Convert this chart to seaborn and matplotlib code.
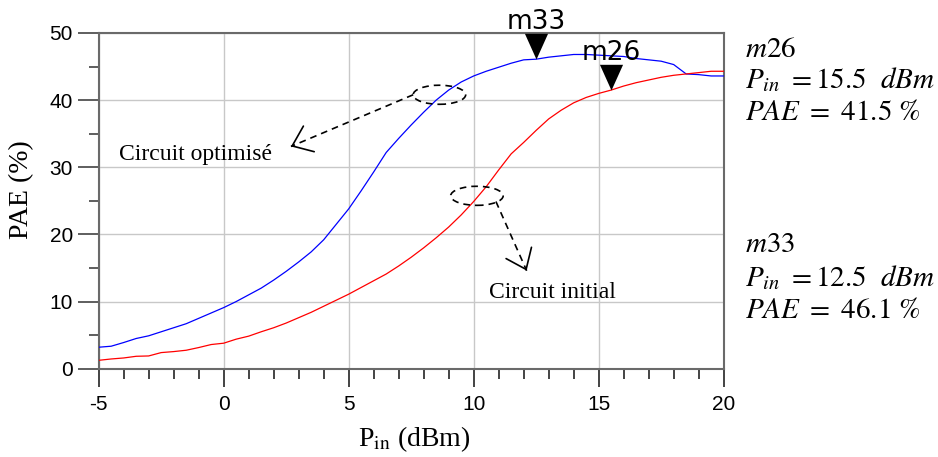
import numpy as np
import pandas as pd
import matplotlib
matplotlib.use("Agg")
import matplotlib.pyplot as plt
import seaborn as sns
from matplotlib.ticker import MultipleLocator
from matplotlib.patches import Ellipse

# Input power sweep (dBm)
pin = [-5, -4.5, -4, -3.5, -3, -2.5, -2, -1.5, -1, -0.5,
       0, 0.5, 1, 1.5, 2, 2.5, 3, 3.5, 4, 4.5,
       5, 5.5, 6, 6.5, 7, 7.5, 8, 8.5, 9, 9.5,
       10, 10.5, 11, 11.5, 12, 12.5, 13, 13.5, 14, 14.5,
       15, 15.5, 16, 16.5, 17, 17.5, 18, 18.5, 19, 19.5, 20]

# PAE (%) of the optimised circuit
pae_optimise = [3.2, 3.35, 3.9, 4.5, 4.9, 5.5, 6.1, 6.7, 7.5, 8.3,
                9.1, 10.0, 11.0, 12.0, 13.2, 14.5, 15.9, 17.4, 19.2, 21.5,
                23.8, 26.5, 29.3, 32.2, 34.3, 36.3, 38.2, 40.0, 41.5, 42.7,
                43.6, 44.3, 44.9, 45.5, 46.0, 46.1, 46.4, 46.6, 46.8, 46.8,
                46.7, 46.6, 46.5, 46.2, 46.0, 45.8, 45.3, 43.9, 43.8, 43.6, 43.6]

# PAE (%) of the initial circuit
pae_initial = [1.25, 1.45, 1.6, 1.85, 1.9, 2.4, 2.55, 2.75, 3.15, 3.6,
               3.8, 4.4, 4.85, 5.5, 6.1, 6.8, 7.6, 8.4, 9.3, 10.2,
               11.1, 12.1, 13.1, 14.1, 15.3, 16.6, 18.0, 19.5, 21.1, 22.9,
               24.9, 27.1, 29.6, 32.0, 33.7, 35.5, 37.2, 38.5, 39.6, 40.4,
               41.0, 41.5, 42.1, 42.6, 43.0, 43.4, 43.7, 43.9, 44.1, 44.3, 44.3]

# Markers: name, Pin (dBm), PAE (%)
marker_names = ["m33", "m26"]
marker_pin = [12.5, 15.5]
marker_pae = [46.1, 41.5]

x_ticks = [-5, 0, 5, 10, 15, 20]
y_ticks = [0, 10, 20, 30, 40, 50]

df = pd.DataFrame({
    "Pin": pin * 2,
    "PAE": pae_optimise + pae_initial,
    "circuit": ["Circuit optimisé"] * len(pin) + ["Circuit initial"] * len(pin),
})

sns.set_theme(style="white")
plt.rcParams["font.family"] = ["Liberation Sans", "DejaVu Sans"]
plt.rcParams["mathtext.fontset"] = "stix"

fig = plt.figure(figsize=(9.38, 4.57), dpi=100)
ax = fig.add_axes([0.1052, 0.1932, 0.6663, 0.7346])

sns.lineplot(data=df, x="Pin", y="PAE", hue="circuit",
             palette={"Circuit optimisé": "#0000ff", "Circuit initial": "#ff0000"},
             linewidth=0.9, legend=False, ax=ax, zorder=3)

ax.set_xlim(-5, 20)
ax.set_ylim(0, 50)
ax.set_xticks(x_ticks)
ax.set_yticks(y_ticks)
ax.set_xticklabels([str(v) for v in x_ticks])
ax.set_yticklabels([str(v) for v in y_ticks])
ax.xaxis.set_minor_locator(MultipleLocator(1))
ax.yaxis.set_minor_locator(MultipleLocator(5))

ax.grid(True, which="major", color="#c8c8c8", linewidth=1.0)
ax.set_axisbelow(True)

for side in ["left", "right", "top", "bottom"]:
    ax.spines[side].set_visible(True)
    ax.spines[side].set_color("#6a6a6a")
    ax.spines[side].set_linewidth(1.5)

ax.tick_params(axis="y", which="major", direction="out", length=15, width=1.1,
               color="#333333", labelsize=15, labelcolor="black", pad=3.5,
               left=True, right=False)
ax.tick_params(axis="y", which="minor", direction="out", length=7.5, width=1.1,
               color="#333333", left=True, right=False)
ax.tick_params(axis="x", which="major", direction="out", length=13, width=1.1,
               color="#111111", labelsize=15, labelcolor="black", pad=6,
               bottom=True, top=False)
ax.tick_params(axis="x", which="minor", direction="out", length=7, width=1.1,
               color="#111111", bottom=True, top=False)

ax.set_xlabel(r"P$_{\mathrm{in}}$ (dBm)", family="Liberation Serif", fontsize=20,
              color="black")
ax.set_ylabel("PAE (%)", family="Liberation Serif", fontsize=20, color="black")
ax.xaxis.set_label_coords(0.505, -0.165)
ax.yaxis.set_label_coords(-0.104, 0.532)

# Marker triangles with their tip on the curve
tip_down = [(0, 0), (-0.45, 1), (0.45, 1), (0, 0)]
ax.plot(marker_pin, marker_pae, linestyle="none", marker=tip_down,
        markersize=37, color="black", markeredgewidth=0, zorder=5, clip_on=False)
for name, xm, ym in zip(marker_names, marker_pin, marker_pae):
    ax.annotate(name, xy=(xm, ym), xytext=(0, 21.5), textcoords="offset points",
                ha="center", va="baseline", fontsize=19, color="black",
                family="DejaVu Sans", zorder=6, annotation_clip=False)

# Dashed callouts pointing to each curve
ell_kw = dict(width=2.1, height=2.84, fill=False, edgecolor="black",
              linestyle=(0, (4, 3)), linewidth=1.2, zorder=4)
ax.add_patch(Ellipse((8.63, 40.8), **ell_kw))
ax.add_patch(Ellipse((10.13, 25.75), **ell_kw))

def dashed_arrow(start, end):
    ax.plot([start[0], end[0]], [start[1], end[1]], color="black",
            linestyle=(0, (4, 3)), linewidth=1.2, zorder=4)
    back = (end[0] + (start[0] - end[0]) * 0.02, end[1] + (start[1] - end[1]) * 0.02)
    ax.annotate("", xy=end, xytext=back,
                arrowprops=dict(arrowstyle="->,head_length=0.65,head_width=0.5",
                                color="black", lw=1.2, mutation_scale=20,
                                shrinkA=0, shrinkB=0), zorder=4)

dashed_arrow((7.58, 40.8), (2.69, 33.1))
dashed_arrow((10.89, 24.9), (12.12, 14.6))

ax.text(-4.19, 31.15, "Circuit optimisé", family="Liberation Serif",
        fontsize=17, ha="left", va="baseline", color="black")
ax.text(10.62, 10.5, "Circuit initial", family="Liberation Serif",
        fontsize=17, ha="left", va="baseline", color="black")

# Marker readouts
readouts = [
    (0.876, r"$m26$"),
    (0.807, r"$P_{in}\ =15.5\ \ dBm$"),
    (0.737, r"$PAE\ =\ 41.5\ \%$"),
    (0.449, r"$m33$"),
    (0.373, r"$P_{in}\ =12.5\ \ dBm$"),
    (0.305, r"$PAE\ =\ 46.1\ \%$"),
]
for yf, txt in readouts:
    fig.text(0.794, yf, txt, fontsize=21, ha="left", va="baseline", color="black")

fig.savefig("out.png", dpi=100)
